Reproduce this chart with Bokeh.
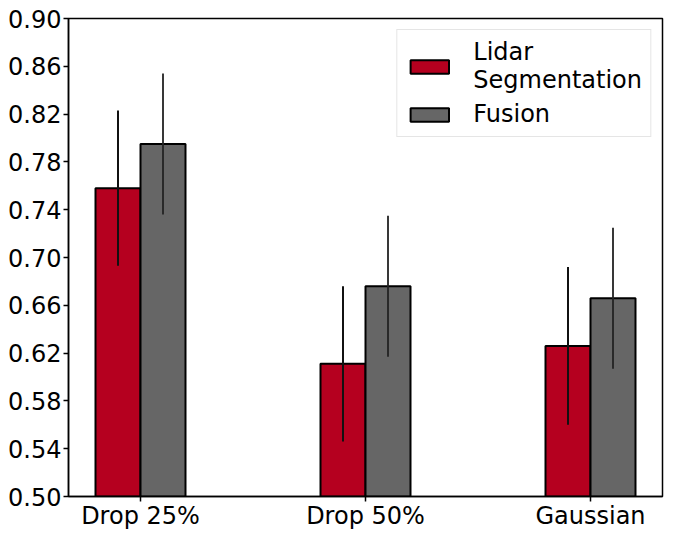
from bokeh.plotting import figure
from bokeh.models import Range1d, FixedTicker, Legend, LegendItem, ColumnDataSource
from bokeh.embed import file_html
from bokeh.resources import INLINE

categories = ["Drop 25%", "Drop 50%", "Gaussian"]
series_names = ["Lidar\nSegmentation", "Fusion"]
lidar_mean = [0.758, 0.611, 0.626]
lidar_err = [0.065, 0.065, 0.066]
fusion_mean = [0.795, 0.676, 0.666]
fusion_err = [0.059, 0.059, 0.059]
y_ticks = [0.50, 0.54, 0.58, 0.62, 0.66, 0.70, 0.74, 0.78, 0.82, 0.86, 0.90]

RED = "#b5001f"
GRAY = "#666666"
FONT = "DejaVu Sans"
FS = "24px"

pos = list(range(len(categories)))
bw = 0.2

src_l = ColumnDataSource(dict(
    x=[p_ - bw / 2 for p_ in pos], top=lidar_mean,
    lo=[m - e for m, e in zip(lidar_mean, lidar_err)],
    hi=[m + e for m, e in zip(lidar_mean, lidar_err)]))
src_f = ColumnDataSource(dict(
    x=[p_ + bw / 2 for p_ in pos], top=fusion_mean,
    lo=[m - e for m, e in zip(fusion_mean, fusion_err)],
    hi=[m + e for m, e in zip(fusion_mean, fusion_err)]))

p = figure(width=669, height=532, output_backend="svg", toolbar_location=None,
           x_range=Range1d(-0.32, 2.32), y_range=Range1d(0.50, 0.90),
           min_border_left=68, min_border_right=7, min_border_top=18,
           min_border_bottom=10)

r_l = p.vbar(x="x", top="top", bottom=0, width=bw, source=src_l,
             fill_color=RED, line_color="black", line_width=2)
r_f = p.vbar(x="x", top="top", bottom=0, width=bw, source=src_f,
             fill_color=GRAY, line_color="black", line_width=2)
p.segment(x0="x", x1="x", y0="lo", y1="hi", source=src_l,
          line_color="#111111", line_width=2)
p.segment(x0="x", x1="x", y0="lo", y1="hi", source=src_f,
          line_color="#222222", line_width=2, line_alpha=0.9)

p.xgrid.visible = False
p.ygrid.visible = False
p.outline_line_color = "black"
p.outline_line_width = 1.5
p.outline_line_alpha = 1.0

p.xaxis.ticker = FixedTicker(ticks=pos)
p.xaxis.major_label_overrides = {i: c for i, c in zip(pos, categories)}
p.yaxis.ticker = FixedTicker(ticks=y_ticks)
p.yaxis.major_label_overrides = {t: f"{t:.2f}" for t in y_ticks}
for ax in (p.xaxis, p.yaxis):
    ax.major_label_text_font = FONT
    ax.major_label_text_font_size = FS
    ax.major_label_text_color = "black"
    ax.major_tick_out = 5
    ax.major_tick_in = 0
    ax.minor_tick_out = 0
    ax.minor_tick_in = 0
    ax.major_tick_line_width = 1.5
    ax.axis_line_width = 1.5
    ax.axis_line_color = "black"
p.xaxis.major_label_standoff = 0
p.yaxis.major_label_standoff = 2

legend = Legend(items=[LegendItem(label=series_names[0], renderers=[r_l]),
                       LegendItem(label=series_names[1], renderers=[r_f])],
                location="top_right", margin=11, padding=8, spacing=6,
                glyph_width=48, glyph_height=17, label_standoff=20,
                label_text_font=FONT, label_text_font_size=FS,
                label_text_color="black", label_text_line_height=1.1,
                border_line_color="#cccccc", border_line_width=1.5,
                background_fill_alpha=0.8)
p.add_layout(legend)

open("out.html", "w").write(file_html(p, INLINE))
